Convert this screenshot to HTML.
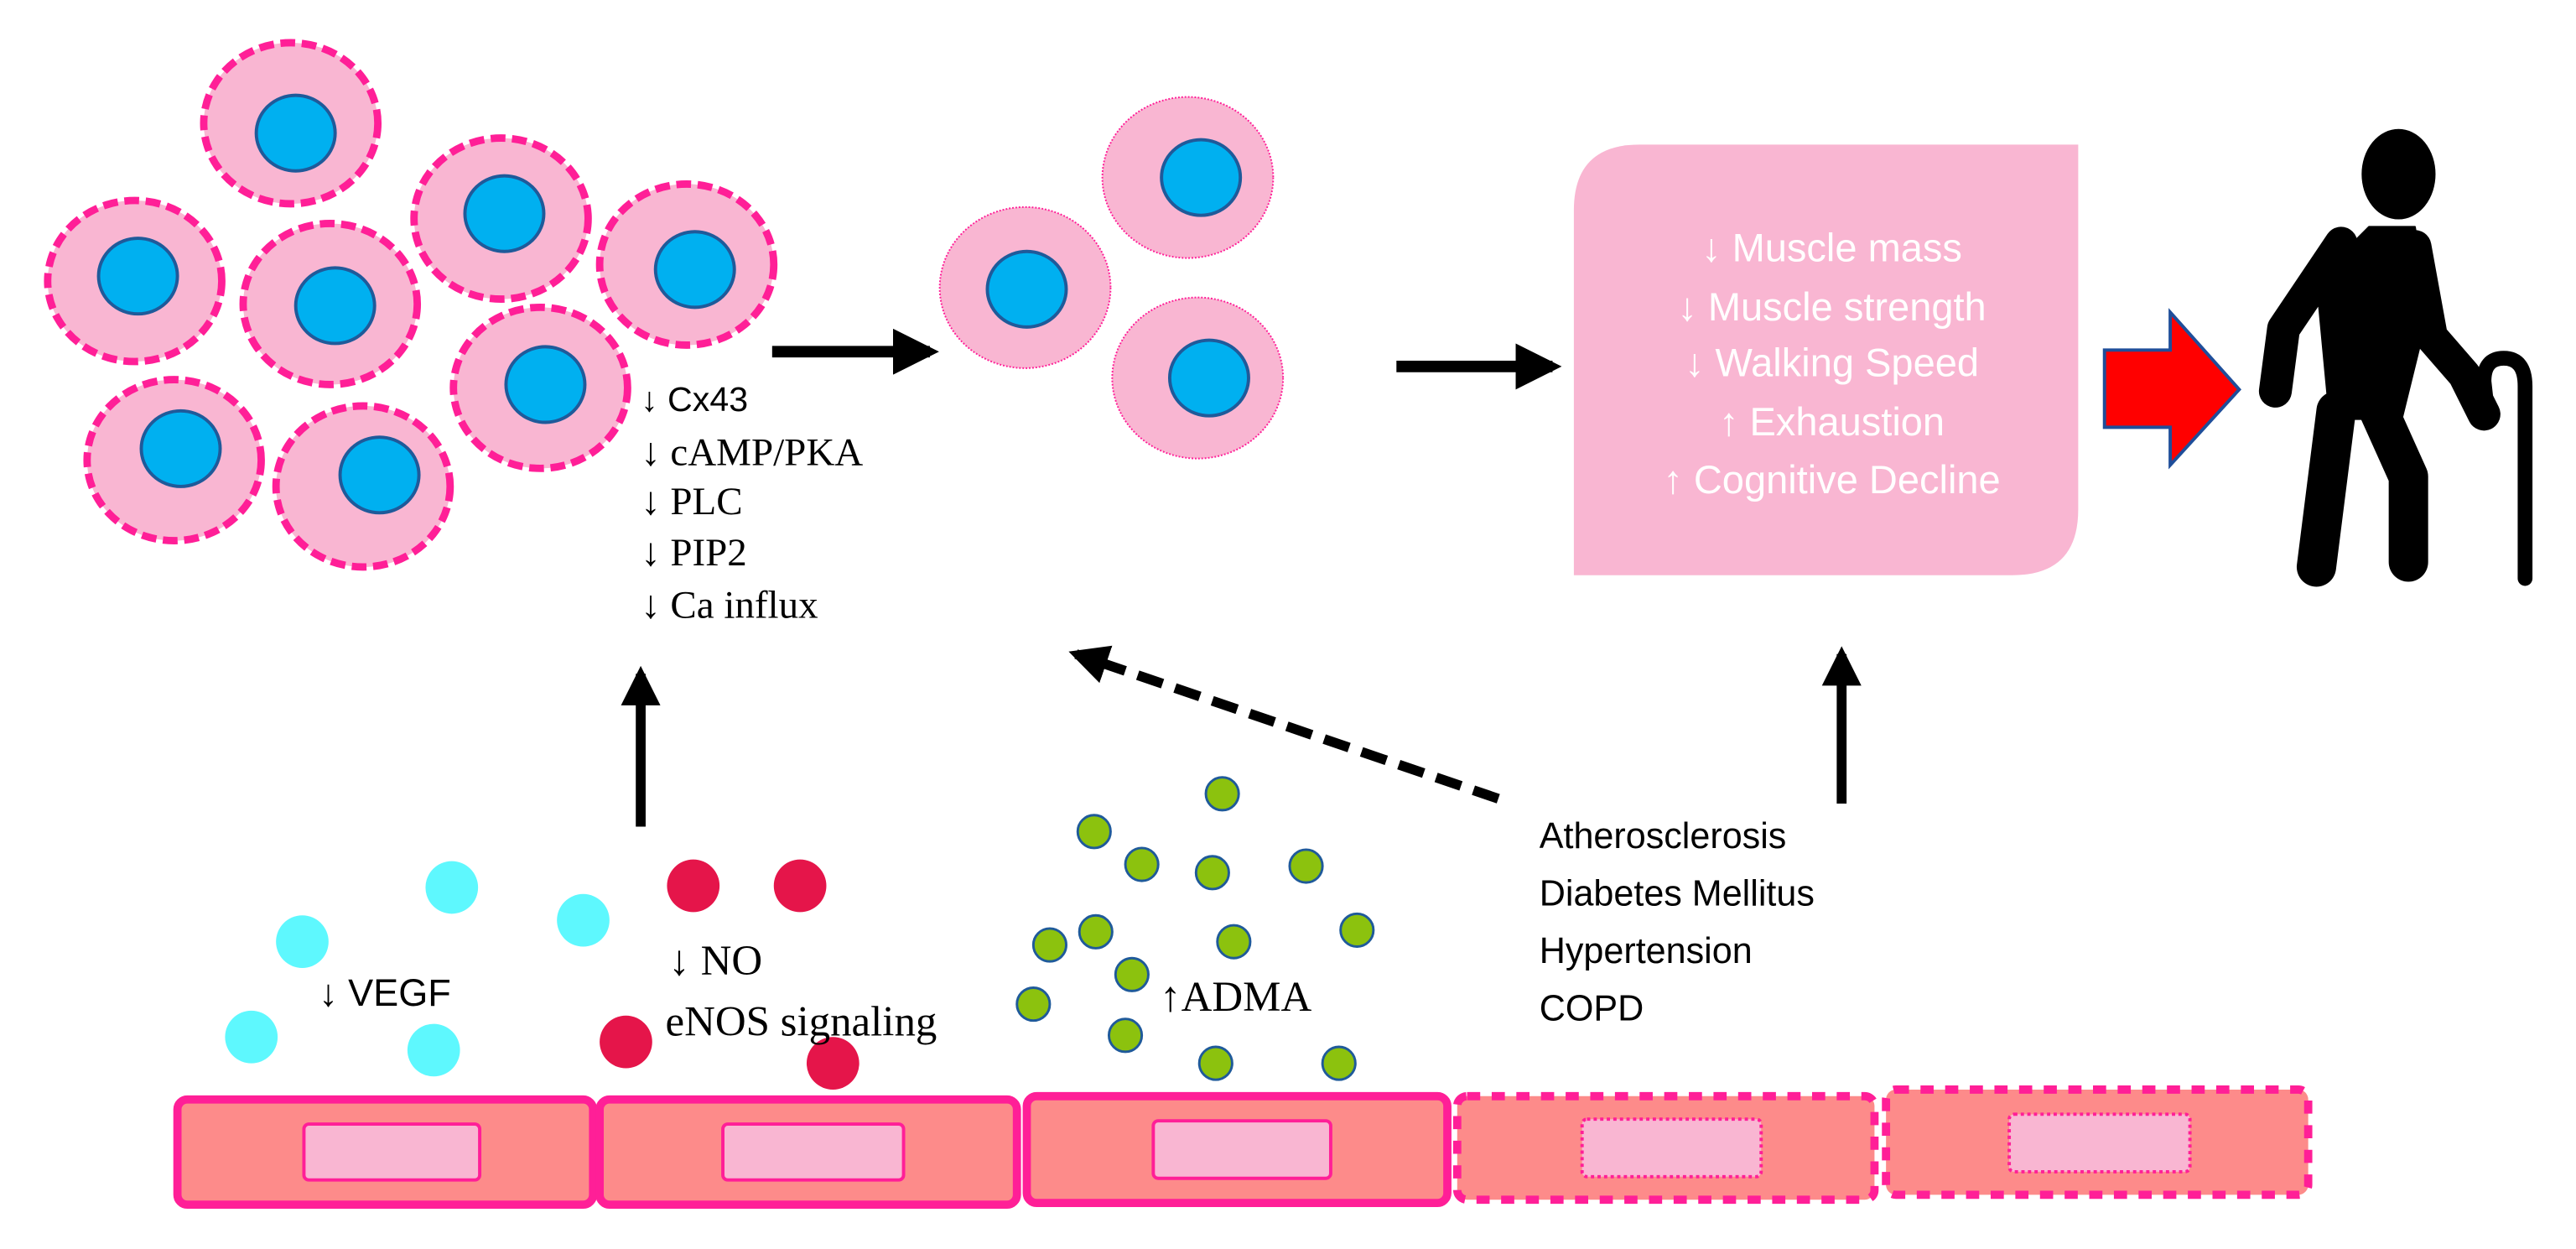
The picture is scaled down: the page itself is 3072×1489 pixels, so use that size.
<!DOCTYPE html>
<html><head><meta charset="utf-8"><style>html,body{margin:0;padding:0;background:#fff}svg{display:block}</style></head>
<body>
<svg width="3072" height="1489" viewBox="0 0 1568 760" preserveAspectRatio="none" xmlns="http://www.w3.org/2000/svg">
<defs>
<marker id="ah" viewBox="0 0 10 10" refX="8" refY="5" markerWidth="4" markerHeight="4" orient="auto" markerUnits="strokeWidth"><path d="M0,0 L10,5 L0,10 z" fill="#000"/></marker>
</defs>
<g fill="#F9B6D2" stroke="#FF1F97" stroke-width="4.5" stroke-dasharray="9,4">
<ellipse cx="177" cy="75" rx="53" ry="49"/>
<ellipse cx="82" cy="171" rx="53" ry="49"/>
<ellipse cx="201" cy="185" rx="53" ry="49"/>
<ellipse cx="305" cy="133" rx="53" ry="49"/>
<ellipse cx="418" cy="161" rx="53" ry="49"/>
<ellipse cx="329" cy="236" rx="53" ry="49"/>
<ellipse cx="106" cy="280" rx="53" ry="49"/>
<ellipse cx="221" cy="296" rx="53" ry="49"/>
</g>
<g fill="#00B0F0" stroke="#1F5A9A" stroke-width="2">
<ellipse cx="180" cy="81" rx="24" ry="23"/>
<ellipse cx="84" cy="168" rx="24" ry="23"/>
<ellipse cx="204" cy="186" rx="24" ry="23"/>
<ellipse cx="307" cy="130" rx="24" ry="23"/>
<ellipse cx="423" cy="164" rx="24" ry="23"/>
<ellipse cx="332" cy="234" rx="24" ry="23"/>
<ellipse cx="110" cy="273" rx="24" ry="23"/>
<ellipse cx="231" cy="289" rx="24" ry="23"/>
</g>
<g font-family="Liberation Serif, serif" font-size="24" fill="#000">
<text x="390" y="250" font-family="Liberation Sans, sans-serif" font-size="21">↓ Cx43</text>
<text x="390" y="283">↓ cAMP/PKA</text>
<text x="390" y="313">↓ PLC</text>
<text x="390" y="344">↓ PIP2</text>
<text x="390" y="376">↓ Ca influx</text>
</g>
<line x1="470" y1="214" x2="566" y2="214" stroke="#000" stroke-width="7" marker-end="url(#ah)"/>
<g fill="#F9B6D2" stroke="#FF1F97" stroke-width="1" stroke-dasharray="1,1">
<ellipse cx="723" cy="108" rx="52" ry="49"/>
<ellipse cx="624" cy="175" rx="52" ry="49"/>
<ellipse cx="729" cy="230" rx="52" ry="49"/>
</g>
<g fill="#00B0F0" stroke="#1F5A9A" stroke-width="2">
<ellipse cx="731" cy="108" rx="24" ry="23"/>
<ellipse cx="625" cy="176" rx="24" ry="23"/>
<ellipse cx="736" cy="230" rx="24" ry="23"/>
</g>
<line x1="850" y1="223" x2="945" y2="223" stroke="#000" stroke-width="7" marker-end="url(#ah)"/>
<path d="M998,88 H1265 V310 Q1265,350 1225,350 H958 V128 Q958,88 998,88 Z" fill="#F9B6D2"/>
<g font-family="Liberation Sans, sans-serif" font-size="24" fill="#fff" text-anchor="middle">
<text x="1115" y="159">↓ Muscle mass</text>
<text x="1115" y="195">↓ Muscle strength</text>
<text x="1115" y="229">↓ Walking Speed</text>
<text x="1115" y="265">↑ Exhaustion</text>
<text x="1115" y="300">↑ Cognitive Decline</text>
</g>
<path d="M1281,213 H1321 V190 L1363,237 L1321,283 V260 H1281 Z" fill="#FF0000" stroke="#1F4E9A" stroke-width="2"/>
<g fill="#000" stroke="#000" stroke-linecap="round" stroke-linejoin="round">
<ellipse cx="1460" cy="106" rx="22" ry="27"/>
<path d="M1442,138 L1470,138 L1478,190 L1462,255 L1418,255 L1410,170 Z"/>
<path d="M1425,148 L1390,200 L1385,238" fill="none" stroke-width="20"/>
<path d="M1470,150 L1480,205 L1500,228 L1512,252" fill="none" stroke-width="20"/>
<path d="M1422,250 L1410,345" fill="none" stroke-width="24"/>
<path d="M1448,250 L1466,290 L1466,342" fill="none" stroke-width="24"/>
<path d="M1537,352 L1537,235 Q1537,218 1524,218 Q1512,218 1512,232 L1514,250" fill="none" stroke-width="9"/>
</g>
<line x1="390" y1="503" x2="390" y2="410" stroke="#000" stroke-width="6" marker-end="url(#ah)"/>
<line x1="1121" y1="489" x2="1121" y2="398" stroke="#000" stroke-width="6" marker-end="url(#ah)"/>
<line x1="912" y1="486" x2="655" y2="398" stroke="#000" stroke-width="6" stroke-dasharray="16,8" marker-end="url(#ah)"/>
<g font-family="Liberation Sans, sans-serif" font-size="22" fill="#000">
<text x="937" y="516">Atherosclerosis</text>
<text x="937" y="551">Diabetes Mellitus</text>
<text x="937" y="586">Hypertension</text>
<text x="937" y="621">COPD</text>
</g>
<g fill="#5EF8FE">
<circle cx="275" cy="540" r="16"/><circle cx="355" cy="560" r="16"/><circle cx="184" cy="573" r="16"/><circle cx="153" cy="631" r="16"/><circle cx="264" cy="639" r="16"/>
</g>
<g fill="#E5154A">
<circle cx="422" cy="539" r="16"/><circle cx="487" cy="539" r="16"/><circle cx="381" cy="634" r="16"/><circle cx="507" cy="647" r="16"/>
</g>
<g fill="#8CC20E" stroke="#1F5A9A" stroke-width="1.5">
<circle cx="744" cy="483" r="10"/><circle cx="666" cy="506" r="10"/><circle cx="695" cy="526" r="10"/><circle cx="738" cy="531" r="10"/><circle cx="795" cy="527" r="10"/><circle cx="667" cy="567" r="10"/><circle cx="639" cy="575" r="10"/><circle cx="751" cy="573" r="10"/><circle cx="826" cy="566" r="10"/><circle cx="689" cy="593" r="10"/><circle cx="629" cy="611" r="10"/><circle cx="685" cy="630" r="10"/><circle cx="740" cy="647" r="10"/><circle cx="815" cy="647" r="10"/>
</g>
<text x="194" y="612" font-family="Liberation Sans, sans-serif" font-size="23">↓ VEGF</text>
<g font-family="Liberation Serif, serif" font-size="26" fill="#000">
<text x="407" y="593">↓ NO</text>
<text x="405" y="630">eNOS signaling</text>
<text x="706" y="615">↑ADMA</text>
</g>
<g fill="#FD8B8A" stroke="#FF1F97" stroke-width="5">
<rect x="108" y="669" width="253" height="64" rx="6"/>
<rect x="365" y="669" width="254" height="64" rx="6"/>
<rect x="625" y="667" width="256" height="65" rx="6"/>
</g>
<g fill="#FD8B8A" stroke="#FF1F97" stroke-width="5" stroke-dasharray="8,7">
<rect x="887" y="667" width="254" height="63" rx="6"/>
<rect x="1148" y="663" width="257" height="64" rx="6"/>
</g>
<g fill="#F9B6D2" stroke="#FF1F97" stroke-width="2">
<rect x="185" y="684" width="107" height="34" rx="3"/>
<rect x="440" y="684" width="110" height="34" rx="3"/>
<rect x="702" y="682" width="108" height="35" rx="3"/>
</g>
<g fill="#F9B6D2" stroke="#FF1F97" stroke-width="2" stroke-dasharray="2,2">
<rect x="963" y="681" width="109" height="35" rx="3"/>
<rect x="1223" y="678" width="110" height="35" rx="3"/>
</g>
</svg>
</body></html>
